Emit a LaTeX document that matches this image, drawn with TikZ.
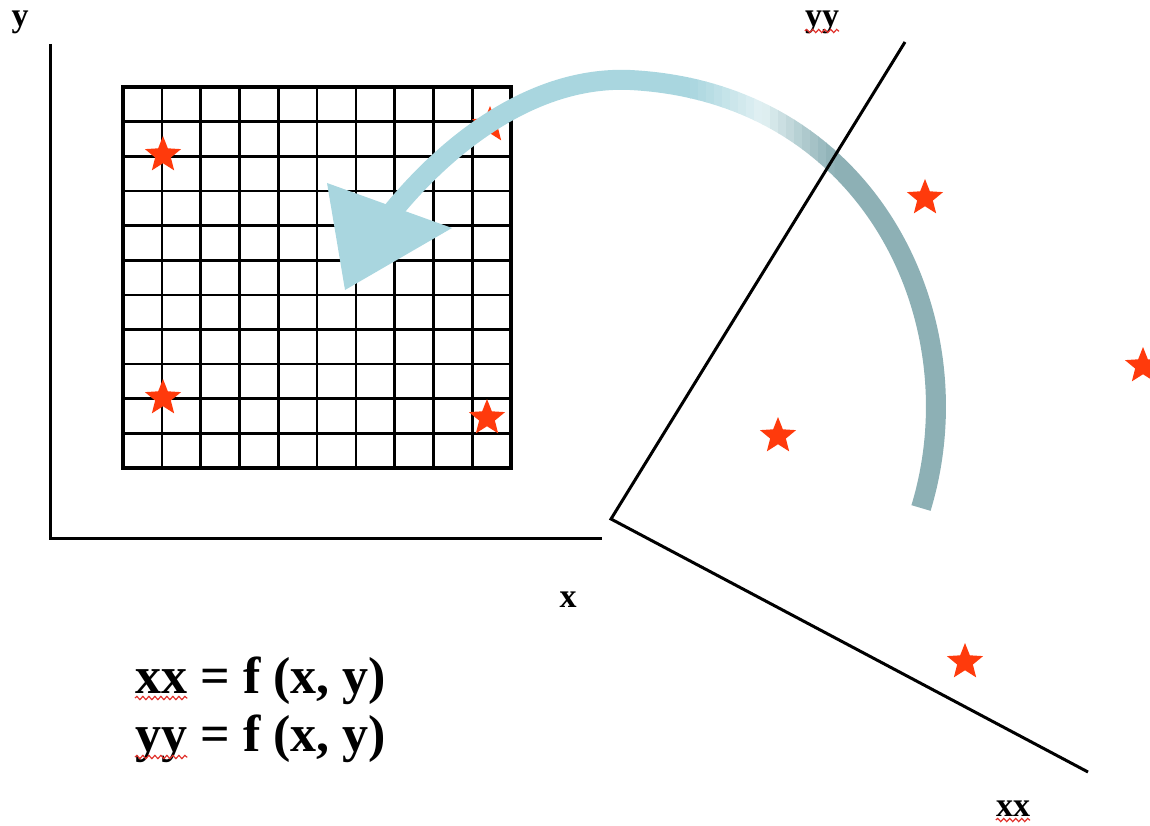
\documentclass[tikz,border=0pt]{standalone}
\usepackage{fontspec}
\setmainfont{Liberation Serif}
\usetikzlibrary{shapes.geometric,decorations.pathmorphing}
\definecolor{starred}{HTML}{FF3A0C}
\definecolor{arrlight}{HTML}{A9D6DF}
\definecolor{arrmid}{HTML}{E2F1F3}
\definecolor{arrdark}{HTML}{8DB0B5}
\definecolor{squigred}{HTML}{E0302A}
\begin{document}
\begin{tikzpicture}[x=1pt,y=-1pt,
  axisline/.style={line width=3pt, black, line join=miter},
  gridline/.style={line width=2.6pt, black},
  gridframe/.style={line width=3.6pt, black},
  starmark/.style={star, star points=5, star point ratio=2.3, fill=starred, draw=none, minimum size=38pt, inner sep=0pt},
  lbl/.style={font=\fontsize{34}{40}\selectfont\bfseries, inner sep=0pt},
  eq/.style={font=\fontsize{52}{58}\selectfont\bfseries, inner sep=0pt},
  squig/.style={draw=squigred, line width=1.2pt, decorate, decoration={snake, amplitude=1.6pt, segment length=6pt}},
  shaftstroke/.style={line width=20pt, line cap=butt}
]
\useasboundingbox (0,0) rectangle (1150,826);
\clip (0,0) rectangle (1150,826);

% left axes
\coordinate (Ytop) at (50,44);
\coordinate (O1) at (50,538);
\coordinate (Xend) at (602,538);
\draw[axisline] (Ytop) -- (O1) -- (Xend);
\node[lbl, anchor=base] (ylab) at (20,27) {y};
\node[lbl, anchor=base] (xlab) at (568,607) {x};

% grid
\coordinate (gNW) at (123,87);
\coordinate (gSE) at (511,468);
\foreach \i in {1,...,9} \draw[gridline] ({123+\i*38.8},87) -- ({123+\i*38.8},468);
\foreach \j in {1,...,10} \draw[gridline] (123,{87+\j*34.64}) -- (511,{87+\j*34.64});
\draw[gridframe] (gNW) rectangle (gSE);

% stars in the grid
\node[starmark] (s1) at (163,155) {};
\node[starmark] (s2) at (163,398) {};
\node[starmark] (s3) at (487,418) {};
\node[starmark] (s4) at (490,125) {};

% curved arrow
\def\shaftpath{(921,508) .. controls (978,320) and (870,92) .. (630,80) .. controls (540,76) and (455,135) .. (392,212)}
\begin{scope}
  \clip (0,0) rectangle (691,826);
  \draw[shaftstroke, draw=arrlight] \shaftpath;
\end{scope}
\begin{scope}
  \clip (833,0) rectangle (1150,826);
  \draw[shaftstroke, draw=arrdark] \shaftpath;
\end{scope}
\foreach \k in {0,...,17} {
  \pgfmathsetmacro\xa{690+8*\k}
  \pgfmathsetmacro\xb{\xa+8.6}
  \ifnum\k<9
    \pgfmathtruncatemacro\p{100*(\k+0.5)/9}
    \colorlet{stripc}{arrmid!\p!arrlight}
  \else
    \pgfmathtruncatemacro\p{100*(\k-8.5)/9}
    \colorlet{stripc}{arrdark!\p!arrmid}
  \fi
  \begin{scope}
    \clip (\xa,0) rectangle (\xb,826);
    \draw[shaftstroke, draw=stripc] \shaftpath;
  \end{scope}
}
\coordinate (hA) at (327,183);
\coordinate (hB) at (452,228);
\coordinate (hC) at (345,290);
\fill[arrlight] (hA) -- (hB) -- (hC) -- cycle;

% rotated axes
\coordinate (YYend) at (905,42);
\coordinate (O2) at (611,519);
\coordinate (XXend) at (1088,772);
\draw[axisline] (YYend) -- (O2) -- (XXend);
\node[lbl, anchor=base] (yylab) at (822,27) {yy};
\node[lbl, anchor=base] (xxlab) at (1013,816) {xx};
\draw[squig] ([yshift=-4pt]yylab.base west) -- ([yshift=-4pt]yylab.base east);
\draw[squig] ([yshift=-4pt]xxlab.base west) -- ([yshift=-4pt]xxlab.base east);

% stars on the right
\node[starmark] (s5) at (925,198) {};
\node[starmark] (s6) at (778,436) {};
\node[starmark] (s7) at (1143,366) {};
\node[starmark] (s8) at (965,662) {};

% equations
\node[eq, anchor=base west] (e1a) at (135,693) {xx};
\node[eq, anchor=base west] (e1b) at ([xshift=13pt]e1a.base east) {= f (x, y)};
\node[eq, anchor=base west] (e2a) at (135,751) {yy};
\node[eq, anchor=base west] (e2b) at ([xshift=13pt]e2a.base east) {= f (x, y)};
\draw[squig] ([yshift=-5pt]e1a.base west) -- ([yshift=-5pt]e1a.base east);
\draw[squig] ([yshift=-6pt]e2a.base west) -- ([yshift=-6pt]e2a.base east);
\end{tikzpicture}
\end{document}
